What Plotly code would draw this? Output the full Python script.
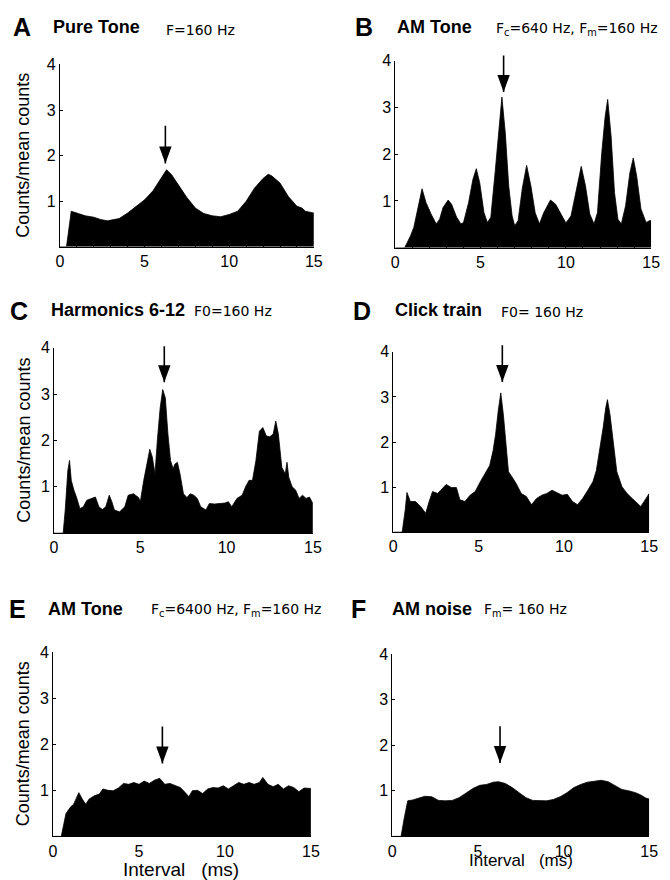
import plotly.graph_objects as go

# ---------------- data ----------------
A_x = [0, 0.39, 0.67, 1.0, 1.5, 2.0, 2.4, 2.8, 3.2, 3.5, 4.0, 4.5, 5.0, 5.5, 6.0, 6.3, 6.6, 7.0, 7.5,
       8.0, 8.5, 9.0, 9.5, 10.0, 10.5, 11.0, 11.5, 12.0, 12.3, 12.5, 13.0, 13.5, 14.0, 14.3, 14.5, 15.0]
A_y = [0, 0, 0.78, 0.74, 0.68, 0.65, 0.60, 0.57, 0.60, 0.62, 0.74, 0.89, 1.03, 1.23, 1.50, 1.69, 1.58, 1.36, 1.08,
       0.85, 0.73, 0.68, 0.66, 0.71, 0.78, 1.00, 1.29, 1.50, 1.59, 1.56, 1.40, 1.10, 0.89, 0.85, 0.78, 0.74]

B_x = [0, 0.55, 0.9, 1.09, 1.57, 1.8, 2.1, 2.4, 2.6, 2.8, 3.1, 3.3, 3.6, 3.85, 4.0, 4.3, 4.55, 4.75, 4.95,
       5.2, 5.4, 5.6, 5.85, 6.05, 6.25, 6.45, 6.65, 6.85, 7.0, 7.2, 7.45, 7.7, 7.95, 8.2, 8.45, 8.7, 9.1,
       9.4, 9.7, 10.0, 10.3, 10.6, 10.9, 11.15, 11.4, 11.65, 11.85, 12.1, 12.3, 12.45, 12.65, 12.85, 13.05,
       13.25, 13.5, 13.75, 13.95, 14.15, 14.4, 14.7, 14.9, 15.0]
B_y = [0, 0, 0.26, 0.44, 1.26, 0.97, 0.72, 0.51, 0.61, 0.86, 1.02, 0.93, 0.65, 0.51, 0.54, 0.97, 1.46, 1.69, 1.39,
       0.75, 0.54, 0.65, 1.60, 2.45, 3.22, 2.45, 1.32, 0.68, 0.47, 0.58, 1.28, 1.76, 1.32, 0.75, 0.51, 0.75, 1.02,
       0.93, 0.72, 0.53, 0.68, 1.18, 1.74, 1.32, 0.72, 0.51, 0.75, 2.02, 2.80, 3.17, 2.38, 1.18, 0.61,
       0.51, 0.90, 1.60, 1.92, 1.53, 0.83, 0.54, 0.58, 0.58]

C_x = [0, 0.53, 0.65, 0.8, 0.9, 1.0, 1.15, 1.3, 1.5, 1.7, 1.9, 2.2, 2.4, 2.6, 2.8, 3.0, 3.2, 3.35, 3.5, 3.8,
       4.1, 4.3, 4.6, 4.9, 5.0, 5.2, 5.4, 5.55, 5.7, 5.85, 6.0, 6.15, 6.3, 6.45, 6.6, 6.75, 6.9, 7.0, 7.15,
       7.3, 7.5, 7.7, 7.9, 8.1, 8.3, 8.5, 8.8, 9.0, 9.3, 9.6, 9.9, 10.1, 10.3, 10.6, 10.9, 11.1, 11.3, 11.5,
       11.7, 11.9, 12.1, 12.3, 12.5, 12.7, 12.85, 13.0, 13.2, 13.4, 13.5, 13.6, 13.8, 14.0, 14.2, 14.4, 14.6,
       14.8, 15.0]
C_y = [0, 0, 0.50, 1.35, 1.57, 1.14, 0.93, 0.78, 0.53, 0.57, 0.71, 0.75, 0.78, 0.57, 0.51, 0.57, 0.82, 0.68, 0.50, 0.46,
       0.57, 0.82, 0.85, 0.77, 0.68, 1.14, 1.57, 1.81, 1.64, 1.28, 2.06, 2.70, 3.10, 2.92, 2.14, 1.57, 1.39, 1.49, 1.53,
       1.28, 0.85, 0.77, 0.85, 0.82, 0.75, 0.57, 0.50, 0.64, 0.63, 0.64, 0.65, 0.68, 0.57, 0.75, 0.82, 1.00, 1.14, 1.14,
       1.57, 2.20, 2.28, 2.10, 2.08, 2.14, 2.42, 2.14, 1.42, 1.28, 1.53, 1.21, 1.00, 0.93, 0.75, 0.82, 0.75,
       0.78, 0.64]

D_x = [0, 0.52, 0.7, 0.8, 1.0, 1.3, 1.6, 1.9, 2.1, 2.3, 2.6, 2.9, 3.1, 3.4, 3.7, 3.9, 4.2, 4.5, 4.8, 5.1,
       5.4, 5.65, 5.85, 6.0, 6.15, 6.3, 6.45, 6.6, 6.75, 6.9, 7.2, 7.5, 7.8, 8.1, 8.4, 8.7, 9.0, 9.3, 9.6,
       9.9, 10.2, 10.5, 10.8, 11.1, 11.4, 11.7, 11.9, 12.1, 12.3, 12.45, 12.55, 12.7, 12.9, 13.1, 13.4, 13.7,
       14.0, 14.3, 14.5, 14.7, 14.9, 15.0]
D_y = [0, 0, 0.50, 0.88, 0.68, 0.68, 0.57, 0.42, 0.68, 0.90, 0.86, 0.97, 1.06, 0.99, 0.99, 0.72, 0.68, 0.82, 0.90, 1.12,
       1.30, 1.48, 1.81, 2.18, 2.69, 3.09, 2.61, 1.96, 1.34, 1.26, 1.08, 0.86, 0.79, 0.61, 0.75, 0.82, 0.86, 0.93, 0.88,
       0.82, 0.84, 0.68, 0.61, 0.75, 0.93, 1.12, 1.37, 1.81, 2.32, 2.76, 2.94, 2.61, 1.96, 1.34, 1.01, 0.86,
       0.75, 0.64, 0.57, 0.68, 0.82, 0.86]

E_x = [0, 0.48, 0.75, 1.0, 1.2, 1.5, 1.7, 1.9, 2.1, 2.4, 2.7, 2.9, 3.2, 3.5, 3.8, 4.1, 4.4, 4.7, 5.0, 5.3,
       5.6, 5.9, 6.2, 6.5, 6.8, 7.1, 7.4, 7.7, 7.9, 8.1, 8.4, 8.7, 9.0, 9.3, 9.6, 9.9, 10.2, 10.5, 10.8,
       11.1, 11.4, 11.7, 12.0, 12.2, 12.5, 12.8, 13.1, 13.4, 13.7, 14.0, 14.3, 14.6, 15.0]
E_y = [0, 0, 0.49, 0.63, 0.70, 0.95, 0.81, 0.70, 0.81, 0.88, 0.92, 1.03, 1.00, 0.99, 1.05, 1.15, 1.13, 1.17, 1.13, 1.20,
       1.15, 1.22, 1.26, 1.13, 1.15, 1.10, 1.06, 0.95, 0.86, 0.99, 1.00, 0.93, 1.03, 1.06, 1.05, 1.10, 1.03, 1.10, 1.17,
       1.13, 1.17, 1.13, 1.17, 1.28, 1.13, 1.08, 1.13, 1.03, 1.10, 1.06, 0.97, 1.05, 1.04]

F_x = [0, 0.51, 0.7, 0.9, 1.2, 1.5, 1.9, 2.3, 2.7, 3.1, 3.5, 3.9, 4.3, 4.7, 5.1, 5.5, 5.9, 6.2, 6.6, 7.0,
       7.4, 7.8, 8.2, 8.6, 9.0, 9.4, 9.8, 10.2, 10.6, 11.0, 11.4, 11.8, 12.2, 12.6, 13.0, 13.4, 13.8, 14.2,
       14.5, 14.8, 15.0]
F_y = [0, 0, 0.41, 0.78, 0.80, 0.84, 0.88, 0.87, 0.79, 0.78, 0.79, 0.85, 0.95, 1.05, 1.12, 1.14, 1.19, 1.20, 1.16, 1.07,
       0.96, 0.85, 0.79, 0.78, 0.78, 0.81, 0.87, 0.96, 1.07, 1.14, 1.19, 1.21, 1.23, 1.20, 1.11, 1.03, 1.00, 0.96,
       0.91, 0.84, 0.82]

panel_letters = ["A", "B", "C", "D", "E", "F"]
panel_names = ["Pure Tone", "AM Tone", "Harmonics 6-12", "Click train", "AM Tone", "AM noise"]
panel_params = ["F=160 Hz",
                "F<sub>c</sub>=640 Hz, F<sub>m</sub>=160 Hz",
                "F0=160 Hz",
                "F0= 160 Hz",
                "F<sub>c</sub>=6400 Hz, F<sub>m</sub>=160 Hz",
                "F<sub>m</sub>= 160 Hz"]
x_ticks = [0, 5, 10, 15]
y_ticks = [1, 2, 3, 4]
x_range = [0, 15]
y_range = [0, 4]
arrow_x = [6.23, 6.35, 6.39, 6.39, 6.36, 6.29]
arrow_tip = [1.83, 3.33, 3.26, 3.33, 1.58, 1.61]
arrow_top = [2.69, 4.14, 4.07, 4.18, 2.42, 2.45]
y_title = "Counts/mean counts"
x_title = "Interval   (ms)"

series_x = [A_x, B_x, C_x, D_x, E_x, F_x]
series_y = [A_y, B_y, C_y, D_y, E_y, F_y]

# ---------------- layout geometry (pixels) ----------------
W, H = 670, 880
boxes = [(57, 316, 57, 241), (399, 660, 53, 242),
         (51, 315, 343, 530), (397, 658, 347, 529),
         (50, 313, 650, 836), (396, 658, 652, 836)]
title_pos = [  # letter x, name x, param x, cy letter, cy name, cy param
    (8, 49, 164, 19, 19, 22),
    (357, 400, 501, 19, 19, 21),
    (5, 47, 193, 306, 305, 306),
    (355, 398, 506, 306, 305, 307),
    (4, 44, 149, 607, 607, 608),
    (353, 395, 488, 607, 607, 608),
]

FONT = "Liberation Sans, Arial, Helvetica, sans-serif"
PFONT = "DejaVu Sans, Liberation Sans, Arial, sans-serif"

def px(x):
    return x / W

def py(y):
    return 1 - y / H

fig = go.Figure()
layout = dict(width=W, height=H, margin=dict(l=0, r=0, t=0, b=0),
              paper_bgcolor="white", plot_bgcolor="white", showlegend=False,
              font=dict(family=FONT, color="black"))
annotations = []
shapes = []

for i in range(6):
    n = "" if i == 0 else str(i + 1)
    xa, ya = "x" + n, "y" + n
    x0, x1, y0, y1 = boxes[i]
    fig.add_trace(go.Scatter(x=series_x[i], y=series_y[i], mode="lines",
                             line=dict(color="black", width=0.8, shape="linear"),
                             fill="tozeroy", fillcolor="black",
                             xaxis=xa, yaxis=ya, hoverinfo="skip"))
    layout["xaxis" + n] = dict(domain=[px(x0), px(x1)], range=x_range, anchor=ya,
                               tickvals=x_ticks, ticks="inside", ticklen=3, tickwidth=1,
                               tickcolor="black", showline=True, linecolor="black", linewidth=1,
                               showgrid=False, zeroline=False,
                               minor=dict(dtick=1, tick0=0, ticks="inside", ticklen=2,
                                          tickcolor="black", showgrid=False),
                               tickfont=dict(size=16, family=FONT, color="black"))
    layout["yaxis" + n] = dict(domain=[py(y1), py(y0)], range=y_range, anchor=xa,
                               tickvals=y_ticks, ticks="inside", ticklen=3, tickwidth=1,
                               tickcolor="black", showline=True, linecolor="black", linewidth=1,
                               showgrid=False, zeroline=False,
                               tickfont=dict(size=16, family=FONT, color="black"))
    # arrow shaft
    annotations.append(dict(x=arrow_x[i], y=arrow_tip[i], ax=arrow_x[i], ay=arrow_top[i],
                            xref=xa, yref=ya, axref=xa, ayref=ya, text="",
                            showarrow=True, arrowhead=0, arrowwidth=1.6, arrowcolor="black",
                            standoff=0, startstandoff=0))
    # arrow head
    shapes.append(dict(type="path", xref=xa, yref=ya, xsizemode="pixel", ysizemode="pixel",
                       xanchor=arrow_x[i], yanchor=arrow_tip[i],
                       path="M0,0 L-6.2,17 L6.2,17 Z", fillcolor="black",
                       line=dict(width=0, color="black"), layer="above"))
    lx, nx, prx, cyl, cyn, cyp = title_pos[i]
    annotations.append(dict(x=px(lx), y=py(cyl), xref="paper", yref="paper", xanchor="left",
                            yanchor="middle", text="<b>%s</b>" % panel_letters[i], showarrow=False,
                            font=dict(size=25, family=FONT, color="black"), borderpad=0))
    annotations.append(dict(x=px(nx), y=py(cyn), xref="paper", yref="paper", xanchor="left",
                            yanchor="middle", text="<b>%s</b>" % panel_names[i], showarrow=False,
                            font=dict(size=18, family=FONT, color="black"), borderpad=0))
    annotations.append(dict(x=px(prx), y=py(cyp), xref="paper", yref="paper", xanchor="left",
                            yanchor="middle", text=panel_params[i], showarrow=False,
                            font=dict(size=14, family=PFONT, color="black"), borderpad=0))
    if i % 2 == 0:
        annotations.append(dict(x=px(19.5), y=py((y0 + y1) / 2), xref="paper", yref="paper",
                                xanchor="center", yanchor="middle", textangle=-90,
                                text=y_title, showarrow=False,
                                font=dict(size=18, family=FONT, color="black")))

annotations.append(dict(x=px(181), y=py(869), xref="paper", yref="paper", xanchor="center",
                        yanchor="middle", text=x_title, showarrow=False,
                        font=dict(size=19, family=FONT, color="black")))
annotations.append(dict(x=px(527), y=py(860), xref="paper", yref="paper", xanchor="center",
                        yanchor="middle", text=x_title, showarrow=False,
                        font=dict(size=17, family=FONT, color="black")))

layout["annotations"] = annotations
layout["shapes"] = shapes
fig.update_layout(**layout)
fig.write_html("out.html", config={"displayModeBar": False},
               post_script="document.body.style.margin='0';document.body.style.padding='0';")
